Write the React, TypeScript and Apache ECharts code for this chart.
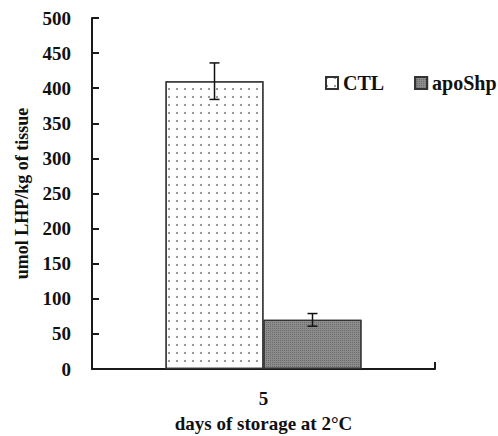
import React, { useEffect, useRef } from "react";
import * as echarts from "echarts";

const categories = ["5"];
const seriesNames = ["CTL", "apoShp"];
const ctlValues = [410];
const apoValues = [70];
const ctlErr = [26];
const apoErr = [9];
const yTicks = { min: 0, max: 500, interval: 50 };

const FONT = '"Liberation Serif", "Times New Roman", serif';
const BAR_W = 98;

export default function App() {
  const ref = useRef<HTMLDivElement>(null);
  useEffect(() => {
    if (!ref.current) return;
    const chart = echarts.init(ref.current, null, { renderer: "svg" });
    const errData: number[][] = [];
    categories.forEach((_, ci) => {
      errData.push([ci, ctlValues[ci] - ctlErr[ci], ctlValues[ci] + ctlErr[ci], 0]);
      errData.push([ci, apoValues[ci] - apoErr[ci], apoValues[ci] + apoErr[ci], 1]);
    });
    chart.setOption({
      animation: false,
      backgroundColor: "#ffffff",
      grid: { left: 92, right: 63, top: 18, bottom: 67, containLabel: false, outerBoundsMode: "none" },
      legend: {
        data: seriesNames,
        orient: "horizontal",
        top: 73,
        left: 325,
        width: 200,
        padding: 0,
        icon: "rect",
        itemWidth: 12,
        itemHeight: 12,
        itemGap: 30,
        textStyle: { fontFamily: FONT, fontWeight: "bold", fontSize: 20, color: "#111" },
      },
      xAxis: {
        type: "category",
        data: categories,
        axisLine: { lineStyle: { color: "#1a1a1a", width: 2 } },
        axisTick: { show: true, inside: true, length: 7, lineStyle: { color: "#1a1a1a", width: 2 } },
        axisLabel: { fontFamily: FONT, fontWeight: "bold", fontSize: 19, color: "#111", margin: 20 },
        name: "days of storage at 2°C",
        nameLocation: "middle",
        nameGap: 45,
        nameTextStyle: { fontFamily: FONT, fontWeight: "bold", fontSize: 19, color: "#111" },
      },
      yAxis: {
        type: "value",
        min: yTicks.min,
        max: yTicks.max,
        interval: yTicks.interval,
        splitLine: { show: false },
        axisLine: { show: true, lineStyle: { color: "#1a1a1a", width: 2 } },
        axisTick: { show: true, inside: true, length: 7, lineStyle: { color: "#1a1a1a", width: 2 } },
        axisLabel: { fontFamily: FONT, fontWeight: "bold", fontSize: 19, color: "#111", margin: 21 },
        name: "umol LHP/kg of tissue",
        nameLocation: "middle",
        nameGap: 61,
        nameTextStyle: { fontFamily: FONT, fontWeight: "bold", fontSize: 18, color: "#111" },
      },
      series: [
        {
          name: seriesNames[0],
          type: "bar",
          data: ctlValues,
          barWidth: BAR_W,
          barGap: "0%",
          itemStyle: {
            color: "#ffffff",
            borderColor: "#333",
            borderWidth: 1.2,
            decal: {
              symbol: "rect",
              symbolSize: 1,
              color: "#999",
              dashArrayX: [1.5, 5.5],
              dashArrayY: [1.5, 5.5],
            },
          },
        },
        {
          name: seriesNames[1],
          type: "bar",
          data: apoValues,
          barWidth: BAR_W,
          barGap: "0%",
          itemStyle: {
            color: "#8c8c8c",
            borderColor: "#333",
            borderWidth: 1.2,
            decal: {
              symbol: "rect",
              symbolSize: 1,
              color: "#6a6a6a",
              dashArrayX: [1, 1],
              dashArrayY: [1, 1],
            },
          },
        },
        {
          type: "custom",
          z: 5,
          data: errData,
          renderItem: (params: any, api: any) => {
            const idx = api.value(3);
            const off = (idx - 0.5) * BAR_W;
            const lo = api.coord([api.value(0), api.value(1)]);
            const hi = api.coord([api.value(0), api.value(2)]);
            const x = lo[0] + off;
            const cap = 5;
            const style = { stroke: "#111", lineWidth: 1.5 };
            return {
              type: "group",
              children: [
                { type: "line", shape: { x1: x, y1: lo[1], x2: x, y2: hi[1] }, style },
                { type: "line", shape: { x1: x - cap, y1: lo[1], x2: x + cap, y2: lo[1] }, style },
                { type: "line", shape: { x1: x - cap, y1: hi[1], x2: x + cap, y2: hi[1] }, style },
              ],
            };
          },
        },
      ],
    });
    return () => chart.dispose();
  }, []);
  return (
    <div
      ref={ref}
      style={{ position: "fixed", left: 0, top: 0, width: 498, height: 436, background: "#fff" }}
    />
  );
}
